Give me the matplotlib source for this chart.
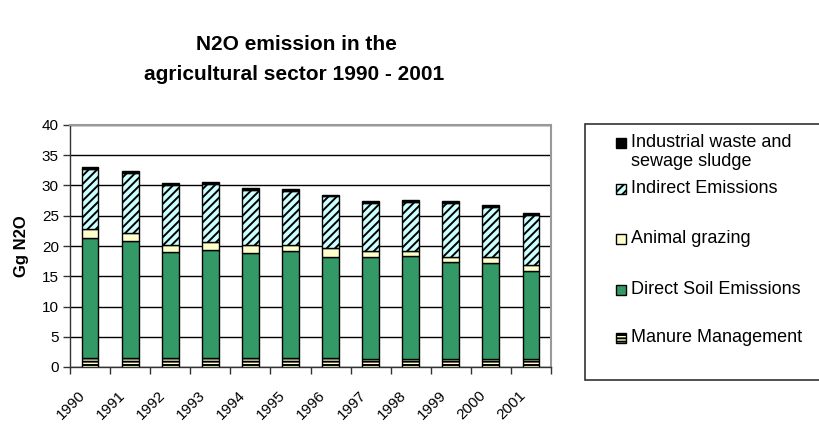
import numpy as np
import matplotlib
matplotlib.use("Agg")
import matplotlib.pyplot as plt
from matplotlib.patches import Rectangle

plt.rcParams['font.family'] = ['Liberation Sans', 'DejaVu Sans']
plt.rcParams['hatch.linewidth'] = 1.4

years = ['1990', '1991', '1992', '1993', '1994', '1995', '1996',
         '1997', '1998', '1999', '2000', '2001']
manure = [1.5, 1.5, 1.5, 1.5, 1.5, 1.5, 1.5, 1.4, 1.4, 1.4, 1.4, 1.4]
direct_soil = [19.9, 19.4, 17.5, 17.9, 17.3, 17.6, 16.6, 16.8, 17.0, 16.0, 15.8, 14.4]
grazing = [1.4, 1.2, 1.2, 1.3, 1.4, 1.1, 1.6, 0.9, 0.7, 0.8, 1.0, 1.0]
indirect = [10.0, 9.9, 9.9, 9.6, 9.1, 8.9, 8.5, 8.0, 8.2, 8.9, 8.2, 8.4]
industrial = [0.2, 0.4, 0.3, 0.3, 0.3, 0.3, 0.3, 0.3, 0.3, 0.3, 0.3, 0.3]

series = [
    ("Manure Management", manure, dict(facecolor='#FFFFCC', hatch='-----')),
    ("Direct Soil Emissions", direct_soil, dict(facecolor='#339966')),
    ("Animal grazing", grazing, dict(facecolor='#FFFFCC')),
    ("Indirect Emissions", indirect, dict(facecolor='#CCFFFF', hatch='////')),
    ("Industrial waste and\nsewage sludge", industrial, dict(facecolor='#000000')),
]

W, H = 819, 424
fig = plt.figure(figsize=(W / 100, H / 100), dpi=100)


def fx(px):
    return px / W


def fy(py):
    return 1 - py / H


ax = fig.add_axes([fx(70), fy(367), fx(551) - fx(70), fy(125) - fy(367)])
x = np.arange(len(years))
bottom = np.zeros(len(years))
for label, vals, style in series:
    v = np.array(vals)
    ax.bar(x, v, width=0.42, bottom=bottom, edgecolor='black', linewidth=1.0,
           zorder=3, **style)
    bottom += v

ax.set_xlim(-0.5, len(years) - 0.5)
ax.set_ylim(0, 40)
ax.set_yticks(np.arange(0, 41, 5))
ax.yaxis.grid(True, color='black', linewidth=1.0, zorder=0)
ax.set_axisbelow(True)

# labels sit slightly left of the bar centres, as in the original
ax.set_xticks(x - 0.3)
ax.set_xticklabels(years, rotation=45, ha='right', rotation_mode='anchor',
                   fontsize=11)
ax.set_xticks(np.arange(-0.5, len(years) + 0.5, 1), minor=True)
ax.tick_params(axis='x', which='major', length=0, pad=15)
ax.tick_params(axis='x', which='minor', length=5, width=1, color='#333333',
               direction='out')
ax.tick_params(axis='y', length=5, width=1, color='#333333', direction='out',
               labelsize=11, pad=3)

for s in ['left', 'bottom']:
    ax.spines[s].set_color('#333333')
    ax.spines[s].set_linewidth(1.0)
for s in ['top', 'right']:
    ax.spines[s].set_color('#999999')
    ax.spines[s].set_linewidth(1.5)

ax.set_ylabel('Gg N2O', fontsize=12, fontweight='bold', labelpad=9)

fig.text(fx(296), fy(45), 'N2O emission in the', ha='center', va='center',
         fontsize=15, fontweight='bold')
fig.text(fx(294), fy(75), 'agricultural sector 1990 - 2001', ha='center',
         va='center', fontsize=15, fontweight='bold')

# Legend box
fig.add_artist(Rectangle((fx(585), fy(380)), fx(834) - fx(585), fy(124) - fy(380),
                         transform=fig.transFigure, facecolor='white',
                         edgecolor='#333333', linewidth=1.2))

legend_y = {
    "Industrial waste and\nsewage sludge": 152,
    "Indirect Emissions": 189,
    "Animal grazing": 239,
    "Direct Soil Emissions": 290,
    "Manure Management": 338,
}
for label, vals, style in series:
    cy = legend_y[label]
    sq_cy = 143 if '\n' in label else cy
    fig.add_artist(Rectangle((fx(616), fy(sq_cy + 5)), fx(10), fx(10) * W / H,
                             transform=fig.transFigure, edgecolor='black',
                             linewidth=1.0, **style))
    fig.text(fx(631), fy(cy), label, ha='left', va='center', fontsize=13,
             linespacing=1.15)

fig.savefig('out.png', dpi=100)
